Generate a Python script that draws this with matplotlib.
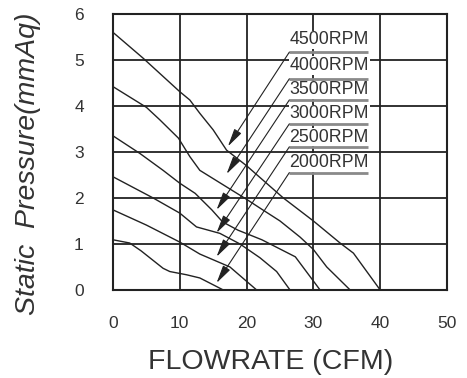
import numpy as np
import matplotlib.pyplot as plt

plt.rcParams['font.family'] = ['Liberation Sans', 'DejaVu Sans']

# fan curves (CFM, mmAq)
x4500 = [0, 4.5, 10, 11.5, 13, 15, 17, 20, 25.5, 30, 34, 36, 40]
y4500 = [5.6, 5.04, 4.31, 4.13, 3.84, 3.48, 3.04, 2.7, 2.0, 1.5, 1.02, 0.8, 0]
x4000 = [0, 5, 7, 9.8, 11.5, 13, 15, 18, 20, 22, 25, 28, 30, 32, 35.5]
y4000 = [4.42, 3.97, 3.7, 3.3, 2.9, 2.6, 2.42, 2.15, 1.97, 1.78, 1.5, 1.15, 0.88, 0.5, 0]
x3500 = [0, 4, 7.5, 10, 12.3, 14.8, 16.4, 18.7, 22.3, 27.3, 31]
y3500 = [3.35, 2.97, 2.6, 2.32, 2.1, 1.74, 1.48, 1.3, 1.09, 0.72, 0]
x3000 = [0, 6, 10, 12.5, 16, 19, 22, 24.5, 26.5]
y3000 = [2.46, 2.0, 1.67, 1.37, 1.23, 1.0, 0.7, 0.4, 0]
x2500 = [0, 5, 10, 13, 17.5, 21.5]
y2500 = [1.74, 1.41, 1.04, 0.78, 0.5, 0]
x2000 = [0, 2.5, 4.2, 7.5, 8.5, 11, 13, 16.5]
y2000 = [1.09, 1.02, 0.85, 0.47, 0.4, 0.33, 0.26, 0]

labels = ['4500RPM', '4000RPM', '3500RPM', '3000RPM', '2500RPM', '2000RPM']
label_y = [5.44, 4.88, 4.35, 3.83, 3.32, 2.77]
under_y = [5.17, 4.59, 4.13, 3.61, 3.11, 2.55]
tips = [(17.2, 3.12), (17.0, 2.52), (15.5, 1.74), (15.5, 1.24), (15.5, 0.72), (15.5, 0.15)]

fig = plt.figure(figsize=(4.67, 3.78), dpi=100)
ax = fig.add_axes([0.242, 0.233, 0.715, 0.730])

for xs, ys in [(x4500, y4500), (x4000, y4000), (x3500, y3500),
               (x3000, y3000), (x2500, y2500), (x2000, y2000)]:
    ax.plot(xs, ys, color='#222222', lw=1.0, zorder=3)

# labels with underline and leader arrow
for lab, ly, uy, tip in zip(labels, label_y, under_y, tips):
    ax.text(26.4, ly, lab, fontsize=12.8, color='#333333', va='center', ha='left',
            bbox=dict(facecolor='white', edgecolor='none', pad=0.5), zorder=4)
    ax.plot([26.4, 38.2], [uy, uy], color='#8a8a8a', lw=2, zorder=5,
            solid_capstyle='butt')
    ax.annotate('', xy=tip, xytext=(26.4, uy), zorder=5,
                arrowprops=dict(arrowstyle='-|>,head_length=1.1,head_width=0.25',
                                color='#222222', lw=0.8, shrinkA=0, shrinkB=0))

ax.set_xlim(0, 50)
ax.set_ylim(0, 6)
ax.set_xticks(range(0, 51, 10))
ax.set_yticks(range(0, 7))
ax.grid(True, color='#222222', lw=1.3, zorder=1)
ax.set_axisbelow(True)
for sp in ax.spines.values():
    sp.set_linewidth(1.5)
    sp.set_color('#222222')
ax.tick_params(length=0, labelsize=12.5, labelcolor='#333333')
ax.tick_params(axis='x', pad=19)
ax.tick_params(axis='y', pad=21)

ax.set_xlabel('FLOWRATE (CFM)', fontsize=20.5, color='#333333')
ax.set_ylabel('Static  Pressure(mmAq)', fontsize=20.5, color='#333333',
              style='italic')
ax.yaxis.set_label_coords(-0.215, 0.457)
ax.xaxis.set_label_coords(0.473, -0.215)

fig.savefig('out.png', dpi=100)
